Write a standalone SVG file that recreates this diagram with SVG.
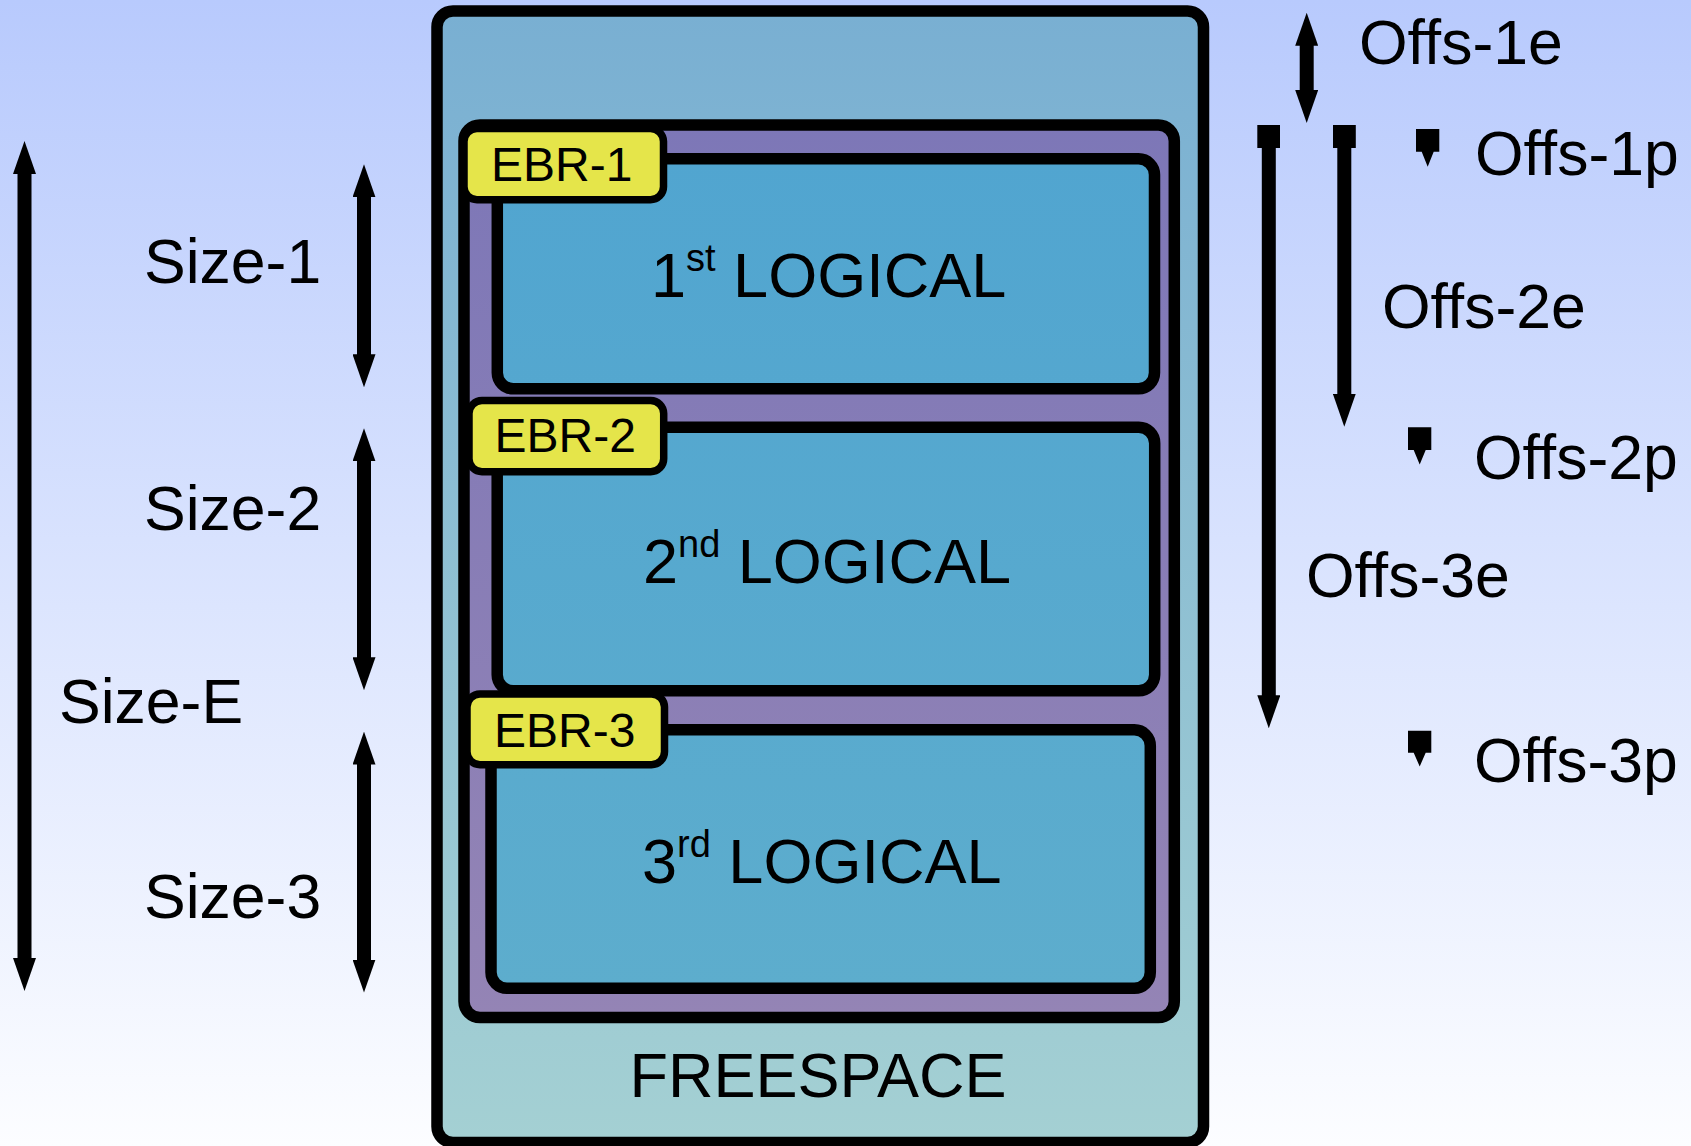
<svg xmlns="http://www.w3.org/2000/svg" width="1691" height="1146" viewBox="0 0 1691 1146">
<defs>
<linearGradient id="bg" x1="0" y1="0" x2="0" y2="1">
<stop offset="0" stop-color="#b8cafd"/>
<stop offset="1" stop-color="#fcfdff"/>
</linearGradient>
<linearGradient id="outerFill" gradientUnits="userSpaceOnUse" x1="0" y1="11" x2="0" y2="1142">
<stop offset="0" stop-color="#79afd2"/>
<stop offset="1" stop-color="#a4d0d3"/>
</linearGradient>
<linearGradient id="extFill" gradientUnits="userSpaceOnUse" x1="0" y1="125" x2="0" y2="1018">
<stop offset="0" stop-color="#7d77b7"/>
<stop offset="1" stop-color="#9484b5"/>
</linearGradient>
<linearGradient id="logFill" gradientUnits="userSpaceOnUse" x1="0" y1="158" x2="0" y2="988">
<stop offset="0" stop-color="#51a5d0"/>
<stop offset="1" stop-color="#5dadcd"/>
</linearGradient>
<marker id="head" viewBox="0 0 33 23" refX="1" refY="11.5" markerWidth="33" markerHeight="23" markerUnits="userSpaceOnUse" orient="auto-start-reverse">
<path d="M0,0 L33,11.5 L0,23 z" fill="#000"/>
</marker>
<marker id="cap" viewBox="0 0 23 23" refX="11.5" refY="11.5" markerWidth="23" markerHeight="23" markerUnits="userSpaceOnUse" orient="auto">
<rect x="0" y="0" width="23" height="23" fill="#000"/>
</marker>
<style>
.box{stroke:#000;stroke-width:11.5;}
.ebr{fill:#e5e54a;stroke:#000;stroke-width:7.5;}
.t{font-family:"Liberation Sans",Arial,sans-serif;fill:#000;}
.lbl{font-size:62.5px;}
.big{font-size:63px;}
.sup{font-size:38px;}
.ebrt{font-size:48px;}
.shaft{stroke:#000;stroke-width:14;fill:none;}
.dbl{marker-start:url(#head);marker-end:url(#head);}
.one{marker-start:url(#cap);marker-end:url(#head);}
</style>
</defs>
<rect width="1691" height="1146" fill="url(#bg)"/>

<g id="disk">
<rect class="box" x="437" y="11" width="766.5" height="1131.5" rx="16" fill="url(#outerFill)"/>
<text class="t big" x="818" y="1097" text-anchor="middle">FREESPACE</text>
</g>

<g id="extended">
<rect class="box" x="464" y="125" width="710.3" height="892.5" rx="16" fill="url(#extFill)"/>
</g>

<g id="logical1">
<rect class="box" x="497.3" y="158.8" width="657.2" height="230" rx="16" fill="url(#logFill)"/>
<text class="t big" x="651" y="297">1<tspan class="sup" dy="-26">st</tspan><tspan dy="26"> LOGICAL</tspan></text>
</g>

<g id="logical2">
<rect class="box" x="497.2" y="427.2" width="657.5" height="263.6" rx="16" fill="url(#logFill)"/>
<text class="t big" x="643" y="582.5">2<tspan class="sup" dy="-26">nd</tspan><tspan dy="26"> LOGICAL</tspan></text>
</g>

<g id="logical3">
<rect class="box" x="491" y="729.8" width="659.3" height="258.5" rx="16" fill="url(#logFill)"/>
<text class="t big" x="642" y="883">3<tspan class="sup" dy="-26">rd</tspan><tspan dy="26"> LOGICAL</tspan></text>
</g>

<g id="ebr1">
<rect class="ebr" x="464" y="128.5" width="199.5" height="71.2" rx="13"/>
<text class="t ebrt" x="491" y="180.5">EBR-1</text>
</g>

<g id="ebr2">
<rect class="ebr" x="469" y="400.5" width="194.7" height="71.2" rx="13"/>
<text class="t ebrt" x="494.5" y="452">EBR-2</text>
</g>

<g id="ebr3">
<rect class="ebr" x="467" y="694" width="197.5" height="70.7" rx="13"/>
<text class="t ebrt" x="494" y="746.5">EBR-3</text>
</g>

<g id="labels">
<text class="t lbl" x="144" y="283">Size-1</text>
<text class="t lbl" x="144" y="530">Size-2</text>
<text class="t lbl" x="59" y="722.5">Size-E</text>
<text class="t lbl" x="144" y="917.5">Size-3</text>
<text class="t lbl" x="1359" y="64.3">Offs-1e</text>
<text class="t lbl" x="1475" y="175">Offs-1p</text>
<text class="t lbl" x="1382" y="328.3">Offs-2e</text>
<text class="t lbl" x="1474" y="479.3">Offs-2p</text>
<text class="t lbl" x="1306" y="596.7">Offs-3e</text>
<text class="t lbl" x="1474" y="781.7">Offs-3p</text>
</g>

<g id="connectors">
<line class="shaft dbl" x1="24.5" y1="173" x2="24.5" y2="959"/>
<line class="shaft dbl" x1="364" y1="196.3" x2="364" y2="355.3"/>
<line class="shaft dbl" x1="364" y1="460.3" x2="364" y2="658.2"/>
<line class="shaft dbl" x1="364" y1="763.6" x2="364" y2="960.5"/>
<line class="shaft dbl" x1="1306.7" y1="44.7" x2="1306.7" y2="91"/>
<line class="shaft one" x1="1268.8" y1="136.5" x2="1268.8" y2="696.3"/>
<line class="shaft one" x1="1344.3" y1="136.5" x2="1344.3" y2="394.7"/>
<path d="M1416,129 H1439.3 V151.7 H1433.7 L1427.7,166.7 L1421.7,151.7 H1416 Z" fill="#000"/>
<path d="M1408,427.3 H1431.3 V450 H1425.7 L1419.7,464.5 L1413.7,450 H1408 Z" fill="#000"/>
<path d="M1408,730.7 H1431.3 V752.7 H1425.7 L1419.7,766.5 L1413.7,752.7 H1408 Z" fill="#000"/>
</g>
</svg>
